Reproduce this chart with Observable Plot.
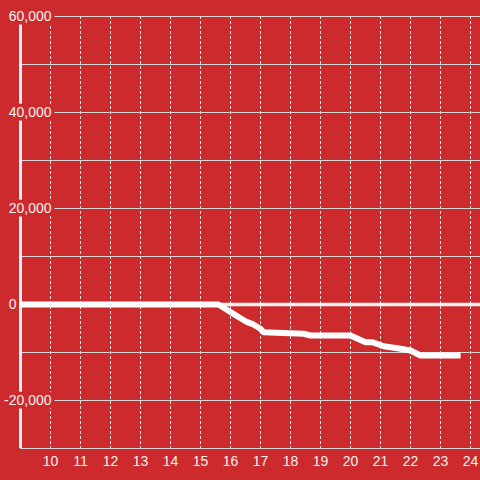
<!DOCTYPE html>
<html>
<head>
<meta charset="utf-8">
<script src="https://cdn.jsdelivr.net/npm/d3@7"></script>
<script src="https://cdn.jsdelivr.net/npm/@observablehq/plot@0.6"></script>
<style>
  html, body { margin: 0; padding: 0; background: #cd2a2e; }
  #chart { width: 480px; height: 480px; }
</style>
</head>
<body>
<div id="chart"></div>
<script>
// Time of day (hours)
const hours = [9.0, 15.6, 16.28, 16.56, 16.72, 17.0, 17.1, 18.44, 18.67, 20.0, 20.5, 20.72, 21.11, 21.56, 22.0, 22.33, 23.67];
// Cumulative value
const values = [0, 0, -2650, -3690, -4020, -5060, -5770, -6100, -6460, -6460, -7850, -7850, -8690, -9100, -9580, -10620, -10620];

const xTicks = [10, 11, 12, 13, 14, 15, 16, 17, 18, 19, 20, 21, 22, 23, 24];
const yLabelTicks = [60000, 40000, 20000, 0, -20000];
const yGrid = [60000, 50000, 40000, 30000, 20000, 10000, -10000, -20000, -30000];

const data = hours.map((h, i) => ({hour: h, value: values[i]}));

const bg = "#cd2a2e";
const ink = "#f2f2f2";
const fmt = d => d.toLocaleString("en-US");

const chart = Plot.plot({
  width: 480,
  height: 480,
  marginLeft: 20,
  marginRight: 0,
  marginTop: 16,
  marginBottom: 32,
  style: {background: bg, fontFamily: "Liberation Sans, Arial, sans-serif", fontSize: "14px"},
  x: {domain: [9, 24 + 1/3], axis: null},
  y: {domain: [-30000, 60000], axis: null},
  marks: [
    Plot.ruleX(xTicks, {stroke: "#dedede", strokeWidth: 1, strokeDasharray: "3,2"}),
    Plot.ruleY(yGrid, {stroke: "#d6d6d6", strokeWidth: 1}),
    Plot.ruleX([9], {stroke: ink, strokeWidth: 3}),
    Plot.ruleY([0], {stroke: ink, strokeWidth: 3.5}),
    Plot.line(data, {x: "hour", y: "value", stroke: "white", strokeWidth: 6, strokeLinecap: "butt", strokeLinejoin: "miter"}),
    Plot.text(yLabelTicks.filter(d => d !== 0), {
      y: d => d, text: fmt, frameAnchor: "left", textAnchor: "end", lineAnchor: "middle",
      dx: 31, fill: ink, stroke: bg, strokeWidth: 7, fontSize: 14
    }),
    Plot.text(yLabelTicks.filter(d => d === 0), {
      y: d => d, text: fmt, frameAnchor: "left", textAnchor: "end", lineAnchor: "middle",
      dx: -4, fill: ink, fontSize: 14
    }),
    Plot.text(xTicks, {
      x: d => d, text: d => String(d), frameAnchor: "bottom", lineAnchor: "middle",
      dy: 13, fill: ink, fontSize: 14
    })
  ]
});
document.getElementById("chart").appendChild(chart);
</script>
</body>
</html>
